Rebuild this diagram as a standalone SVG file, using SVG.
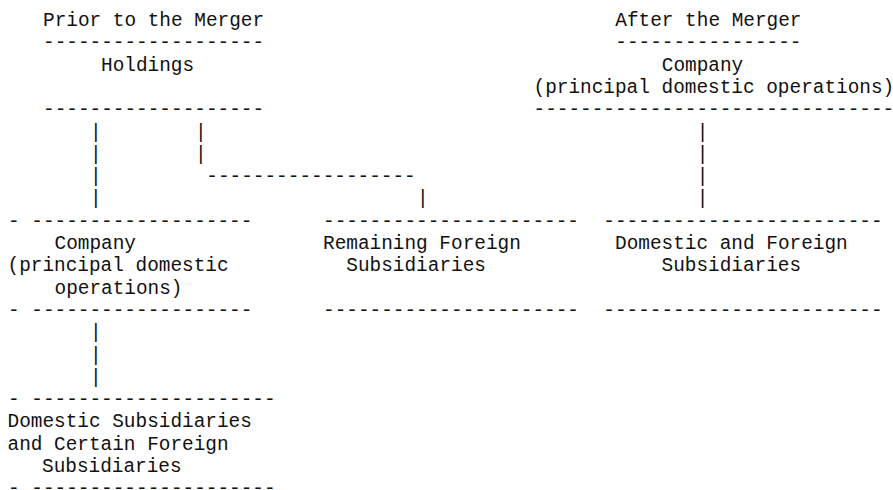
<svg xmlns="http://www.w3.org/2000/svg" width="893" height="490" viewBox="0 0 893 490">
<style>
text{font-family:"Liberation Mono","DejaVu Sans Mono",monospace;font-size:19.4px;fill:#111111;white-space:pre}
</style>
<rect width="893" height="490" fill="#ffffff"/>
<g id="title-prior">
<text x="43" y="26">Prior to the Merger</text>
<text x="43" y="48.3">-------------------</text>
</g>
<g id="holdings">
<text x="101" y="70.6">Holdings</text>
<text x="43" y="115.2">-------------------</text>
</g>
<g id="title-after">
<text x="615.3" y="26">After the Merger</text>
<text x="615.3" y="48.3">----------------</text>
</g>
<g id="company-after">
<text x="661.8" y="70.6">Company</text>
<text x="533.5" y="92.9">(principal domestic operations)</text>
<text x="533.5" y="115.2">-------------------------------</text>
</g>
<g id="connectors">
<text x="90" y="137.5">|</text>
<text x="195" y="137.5">|</text>
<text x="696.8" y="137.5">|</text>
<text x="90" y="159.8">|</text>
<text x="195" y="159.8">|</text>
<text x="696.8" y="159.8">|</text>
<text x="90" y="182.1">|</text>
<text x="206.3" y="182.1">------------------</text>
<text x="696.8" y="182.1">|</text>
<text x="90" y="204.4">|</text>
<text x="417" y="204.4">|</text>
<text x="696.8" y="204.4">|</text>
<text x="90" y="338.2">|</text>
<text x="90" y="360.5">|</text>
<text x="90" y="382.8">|</text>
</g>
<g id="company-before">
<text x="8" y="226.7">- -------------------</text>
<text x="54.5" y="249">Company</text>
<text x="7.5" y="271.3">(principal domestic</text>
<text x="54.5" y="293.6">operations)</text>
<text x="8" y="315.9">- -------------------</text>
</g>
<g id="remaining-foreign">
<text x="323" y="226.7">----------------------</text>
<text x="323" y="249">Remaining Foreign</text>
<text x="346.3" y="271.3">Subsidiaries</text>
<text x="323" y="315.9">----------------------</text>
</g>
<g id="domestic-foreign">
<text x="603.3" y="226.7">------------------------</text>
<text x="615" y="249">Domestic and Foreign</text>
<text x="661.5" y="271.3">Subsidiaries</text>
<text x="603.3" y="315.9">------------------------</text>
</g>
<g id="domestic-subs">
<text x="8" y="405.1">- ---------------------</text>
<text x="7.5" y="427.4">Domestic Subsidiaries</text>
<text x="7.5" y="449.7">and Certain Foreign</text>
<text x="42" y="472">Subsidiaries</text>
<text x="8" y="494.3">- ---------------------</text>
</g>
</svg>
